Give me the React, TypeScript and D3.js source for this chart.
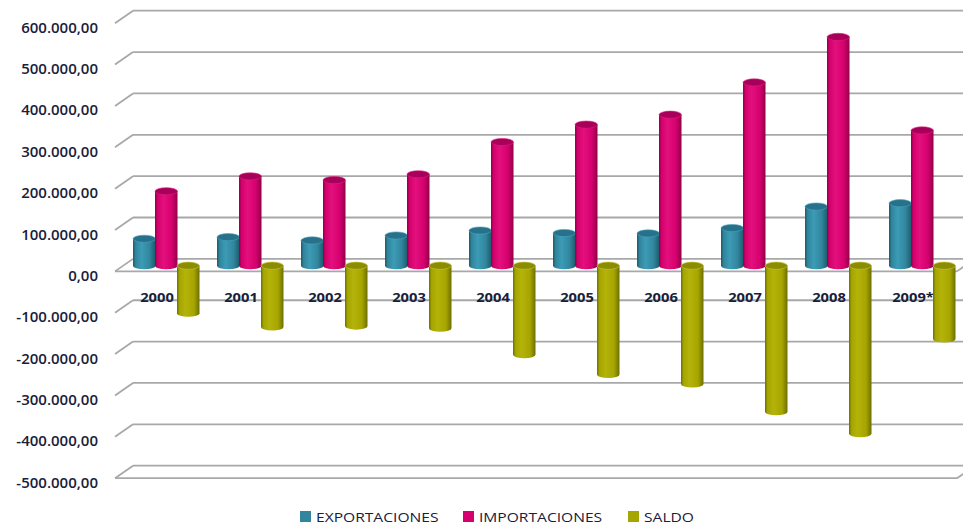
import React from 'react';
import * as d3 from 'd3';

const CATEGORIES = ['2000', '2001', '2002', '2003', '2004', '2005', '2006', '2007', '2008', '2009*'];
const EXPORTACIONES = [65000, 69000, 61000, 73000, 85000, 79000, 78000, 91000, 143000, 151000];
const IMPORTACIONES = [180000, 216000, 207000, 221000, 299000, 341000, 365000, 443000, 553000, 327000];
const SALDO = [-115000, -148000, -146000, -151000, -215000, -263000, -286000, -353000, -406000, -177000];
const SERIES_NAMES = ['EXPORTACIONES', 'IMPORTACIONES', 'SALDO'];
const Y_TICKS = [600000, 500000, 400000, 300000, 200000, 100000, 0, -100000, -200000, -300000, -400000, -500000];

const COLORS = [
  { name: 'teal', edge: '#1d5a6b', mid: '#3c9bb6', base: '#31859c', cap: '#27718a', capStroke: '#4aa3bd' },
  { name: 'mag', edge: '#8f0049', mid: '#e2107c', base: '#d6006e', cap: '#a8005a', capStroke: '#e0207e' },
  { name: 'olive', edge: '#6f6f00', mid: '#b3b30a', base: '#a6a600', cap: '#8c8c00', capStroke: '#c4c43a' },
];

const locale = d3.formatLocale({ decimal: ',', thousands: '.', grouping: [3], currency: ['', ''], minus: '-' });
const fmt = locale.format(',.2f');

const DX = 18; // depth x offset
const DY = 12.5; // depth y offset
const BACK_LEFT = 133;
const BACK_RIGHT = 975;

export default function App() {
  const yBack = d3.scaleLinear().domain([-500000, 600000]).range([465.7, 10.7]);
  const yBar = d3.scaleLinear().domain([-500000, 600000]).range([465.7 + 6.8, 10.7 + 6.8]);
  const xCat = d3.scaleBand<string>().domain(CATEGORIES).range([126, 126 + 84 * CATEGORIES.length]).padding(0);
  const xSer = d3.scaleBand<string>().domain(SERIES_NAMES).range([7, 73]).padding(0);
  const seriesData = [EXPORTACIONES, IMPORTACIONES, SALDO];
  const ry = 3.6;

  const cylinders: React.ReactNode[] = [];
  CATEGORIES.forEach((cat, i) => {
    SERIES_NAMES.forEach((s, si) => {
      const v = seriesData[si][i];
      const x = (xCat(cat) as number) + (xSer(s) as number);
      const w = xSer.bandwidth() + 0.5;
      const rx = w / 2;
      const y0 = yBar(0);
      const yv = yBar(v);
      const top = Math.min(y0, yv);
      const bottom = Math.max(y0, yv);
      const c = COLORS[si];
      const body = `M${x},${top} L${x},${bottom} A${rx},${ry} 0 0 0 ${x + w},${bottom} L${x + w},${top} Z`;
      cylinders.push(
        <g key={`${cat}-${s}`}>
          <path d={body} fill={`url(#grad-${c.name})`} />
          <ellipse cx={x + rx} cy={top} rx={rx} ry={ry} fill={c.cap} stroke={c.capStroke} strokeWidth={0.6} />
        </g>
      );
    });
  });

  const textColor = '#18203a';

  return (
    <svg width={963} height={524} style={{ position: 'absolute', left: 0, top: 0, background: '#fff' }}>
      <defs>
        {COLORS.map((c) => (
          <linearGradient key={c.name} id={`grad-${c.name}`} x1="0" x2="1" y1="0" y2="0">
            <stop offset="0%" stopColor={c.edge} />
            <stop offset="12%" stopColor={c.base} />
            <stop offset="38%" stopColor={c.mid} />
            <stop offset="75%" stopColor={c.base} />
            <stop offset="100%" stopColor={c.edge} />
          </linearGradient>
        ))}
      </defs>

      {/* grid lines */}
      <g stroke="#a8a8a8" strokeWidth={1.8} fill="none">
        {Y_TICKS.map((t) => {
          const yb = yBack(t);
          return (
            <g key={t}>
              <line x1={BACK_LEFT} x2={BACK_RIGHT} y1={yb} y2={yb} />
              <line x1={BACK_LEFT - DX} x2={BACK_LEFT} y1={yb + DY} y2={yb} />
              {(t === 0 || t === -500000) && (
                <>
                  <line x1={BACK_LEFT - DX} x2={BACK_RIGHT - DX} y1={yb + DY} y2={yb + DY} />
                  <line x1={BACK_RIGHT - DX} x2={BACK_RIGHT} y1={yb + DY} y2={yb} />
                </>
              )}
            </g>
          );
        })}
      </g>

      {/* y labels */}
      <g fontFamily="'Open Sans', sans-serif" fontSize={15} fontWeight={600} fill={textColor}>
        {Y_TICKS.map((t) => (
          <text key={t} x={98} y={yBack(t) + 16} textAnchor="end" dominantBaseline="central">
            {fmt(t)}
          </text>
        ))}
      </g>

      {/* category labels */}
      <g fontFamily="'Open Sans', sans-serif" fontSize={11.5} fontWeight="bold" fill={textColor}>
        {CATEGORIES.map((cat) => (
          <text
            key={cat}
            transform={`translate(${(xCat(cat) as number) + 31},${301.5}) scale(1.28,1)`}
            textAnchor="middle"
          >
            {cat}
          </text>
        ))}
      </g>

      {cylinders}

      {/* legend */}
      <g fontFamily="'Open Sans', sans-serif" fontSize={13} fontWeight={500} fill={textColor}>
        {SERIES_NAMES.map((s, si) => {
          const lx = [300, 463, 628][si];
          return (
            <g key={s}>
              <rect x={lx} y={511} width={11} height={11} fill={COLORS[si].base} />
              <text transform={`translate(${lx + 16},${521.5}) scale(1.2,1)`}>{s}</text>
            </g>
          );
        })}
      </g>
    </svg>
  );
}
